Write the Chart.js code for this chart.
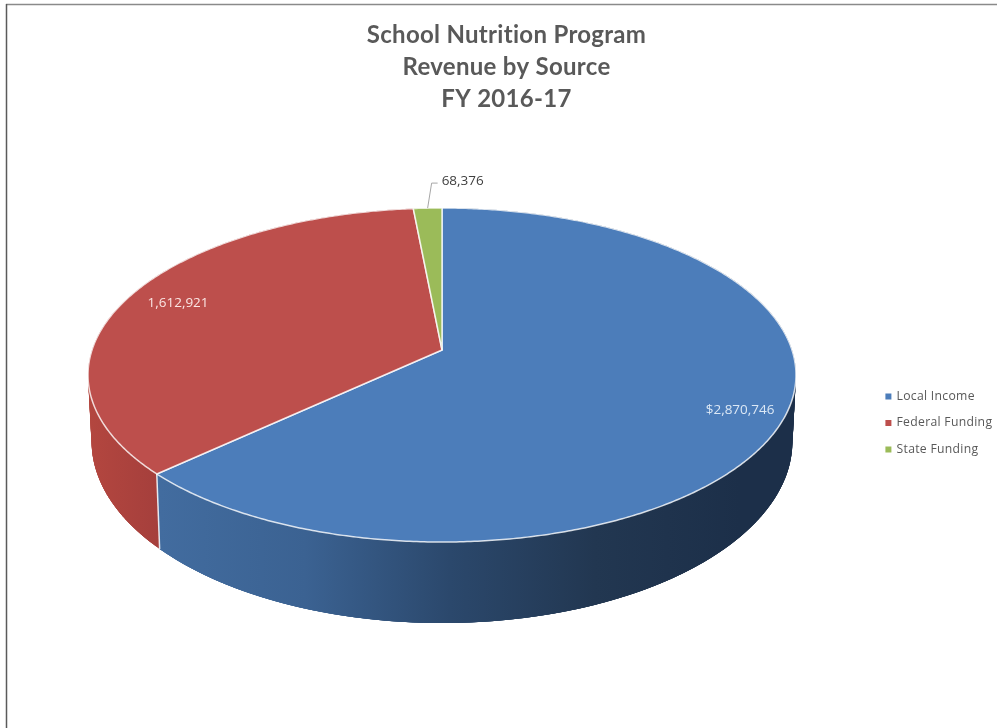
<html>
<head>
	<meta charset="UTF-8" />
	<script src="https://cdn.jsdelivr.net/npm/chart.js@4/dist/chart.umd.js"></script>
	<style>
		html, body { margin: 0; padding: 0; background: #fff; }
		canvas { display: block; }
	</style>
</head>
<body>
	<canvas id="myChart" width="997" height="728"></canvas>
	<script>
const titleLines = ["School Nutrition Program", "Revenue by Source", "FY 2016-17"];
const categories = ["Local Income", "Federal Funding", "State Funding"];
const revenue = [2870746, 1612921, 68376];
const valueLabels = ["$2,870,746", "1,612,921", "68,376"];

const faceColors = ["#4c7dba", "#bd4f4c", "#9bbb59"];
const labelColors = ["#dce8f5", "#fbe6e4", "#404040"];

// perspective of the tilted disc: the unit circle goes through a homography,
// the hub ends up above the middle of the ellipse like in the original
const HUB_X = 442, HUB_Y = 350, SCALE_X = 350, SCALE_Y = 110.9, TILT = -0.1497;
function rimPoint(angle, r) {
	const ux = Math.cos(angle) * r, uy = Math.sin(angle) * r;
	const w = 1 + TILT * uy;
	return { x: HUB_X + SCALE_X * ux / w, y: (SCALE_Y * uy + HUB_Y) / w };
}
function lowerPoint(angle) {
	const p = rimPoint(angle, 1);
	return { x: HUB_X + (p.x - HUB_X) * 0.99, y: 441.3 + (p.y - 375) * 1.088 };
}
const STEP = Math.PI / 360;

const pie3d = {
	id: "pie3d",
	beforeUpdate(chart) {
		chart.ctx.letterSpacing = "0.3px"; // also stops the Lato "tt" ligature
	},
	beforeDraw(chart) {
		const ctx = chart.ctx;
		ctx.letterSpacing = "0.3px";
		ctx.save();
		ctx.lineWidth = 1.5;
		ctx.strokeStyle = "#8a8a8a";
		ctx.beginPath(); ctx.moveTo(6, 4.5); ctx.lineTo(997, 4.5); ctx.stroke();
		ctx.strokeStyle = "#5a5a5a";
		ctx.beginPath(); ctx.moveTo(6.5, 4); ctx.lineTo(6.5, 728); ctx.stroke();
		ctx.restore();
	},
	beforeDatasetDraw() {
		return false; // slices are painted below, from the same arc elements
	},
	afterDatasetsDraw(chart) {
		const ctx = chart.ctx;
		const arcs = chart.getDatasetMeta(0).data;

		const blueWall = ctx.createLinearGradient(160, 0, 740, 0);
		blueWall.addColorStop(0, "#426c9f");
		blueWall.addColorStop(0.25, "#3b6292");
		blueWall.addColorStop(0.5, "#2b486c");
		blueWall.addColorStop(0.75, "#223751");
		blueWall.addColorStop(1, "#1c2f49");
		const redWall = ctx.createLinearGradient(90, 0, 160, 0);
		redWall.addColorStop(0, "#b3463f");
		redWall.addColorStop(1, "#a53f3c");
		const wallFills = [blueWall, redWall, "#7c9647"];

		ctx.save();
		ctx.letterSpacing = "0px";
		ctx.lineJoin = "round";
		// side wall: one closed shape per slice, then overlapping strips on top of it
		// so the folds at the far left and right are filled too
		[2, 1, 0].forEach((i) => {
			const a0 = arcs[i].startAngle, a1 = arcs[i].endAngle;
			ctx.fillStyle = wallFills[i];
			ctx.beginPath();
			for (let a = a0; a < a1; a += STEP) {
				const p = rimPoint(a, 1);
				ctx.lineTo(p.x, p.y);
			}
			const e = rimPoint(a1, 1), f = lowerPoint(a1);
			ctx.lineTo(e.x, e.y);
			ctx.lineTo(f.x, f.y);
			for (let a = a1; a > a0; a -= STEP) {
				const q = lowerPoint(a);
				ctx.lineTo(q.x, q.y);
			}
			const g = lowerPoint(a0);
			ctx.lineTo(g.x, g.y);
			ctx.closePath();
			ctx.fill();
			for (let a = a0; a < a1; a += STEP * 2) {
				const b = Math.min(a + STEP * 6, a1);
				const p = rimPoint(a, 1), q = rimPoint(b, 1), r = lowerPoint(b), s = lowerPoint(a);
				ctx.beginPath();
				ctx.moveTo(p.x, p.y);
				ctx.lineTo(q.x, q.y);
				ctx.lineTo(r.x, r.y);
				ctx.lineTo(s.x, s.y);
				ctx.closePath();
				ctx.fill();
			}
		});
		// white seam where two slices meet on the front of the wall
		ctx.strokeStyle = "rgba(255,255,255,0.85)";
		ctx.lineWidth = 1.5;
		arcs.forEach((arc) => {
			if (Math.sin(arc.endAngle) > 0) {
				const p = rimPoint(arc.endAngle, 1), q = lowerPoint(arc.endAngle);
				ctx.beginPath();
				ctx.moveTo(p.x, p.y);
				ctx.lineTo(q.x, q.y);
				ctx.stroke();
			}
		});
		// top face
		arcs.forEach((arc, i) => {
			ctx.beginPath();
			ctx.moveTo(HUB_X, HUB_Y);
			for (let a = arc.startAngle; a < arc.endAngle; a += STEP) {
				const p = rimPoint(a, 1);
				ctx.lineTo(p.x, p.y);
			}
			const e = rimPoint(arc.endAngle, 1);
			ctx.lineTo(e.x, e.y);
			ctx.closePath();
			ctx.fillStyle = faceColors[i];
			ctx.fill();
			ctx.strokeStyle = "rgba(255,255,255,0.8)";
			ctx.lineWidth = 1.5;
			ctx.stroke();
		});
		// value labels
		ctx.font = "500 13.5px 'Open Sans'";
		ctx.textBaseline = "middle";
		arcs.forEach((arc, i) => {
			const mid = (arc.startAngle + arc.endAngle) / 2;
			ctx.fillStyle = labelColors[i];
			if (i === 2) {
				const p = rimPoint(mid, 1);
				ctx.strokeStyle = "#a6a6a6";
				ctx.lineWidth = 1;
				ctx.beginPath();
				ctx.moveTo(p.x, p.y);
				ctx.lineTo(p.x + 4, p.y - 25);
				ctx.lineTo(p.x + 10, p.y - 25);
				ctx.stroke();
				ctx.textAlign = "left";
				ctx.fillText(valueLabels[i], p.x + 14, p.y - 27);
			} else {
				const p = rimPoint(mid, i === 0 ? 0.88 : 0.843);
				ctx.textAlign = "center";
				ctx.fillText(valueLabels[i], p.x, p.y);
			}
		});
		ctx.restore();
	}
};

const chart = new Chart(document.getElementById("myChart").getContext("2d"), {
	type: "pie",
	data: {
		labels: categories,
		datasets: [{ data: revenue, backgroundColor: faceColors, borderWidth: 0 }]
	},
	options: {
		responsive: false,
		animation: false,
		layout: { padding: { left: 10.7, right: -5.3, top: 0, bottom: 7 } },
		plugins: {
			title: {
				display: true,
				text: titleLines,
				color: "#595959",
				font: { family: "Lato", size: 24, weight: "bold", lineHeight: 1.333 },
				padding: { top: 19, bottom: 10 }
			},
			legend: {
				position: "right",
				fullSize: false,
				labels: {
					usePointStyle: true,
					pointStyle: "rect",
					boxWidth: 4,
					boxHeight: 6,
					padding: 14.3,
					color: "#595959",
					font: { family: "Open Sans", size: 12.2 }
				}
			},
			tooltip: { enabled: false }
		}
	},
	plugins: [pie3d]
});
	</script>
</body>
</html>
